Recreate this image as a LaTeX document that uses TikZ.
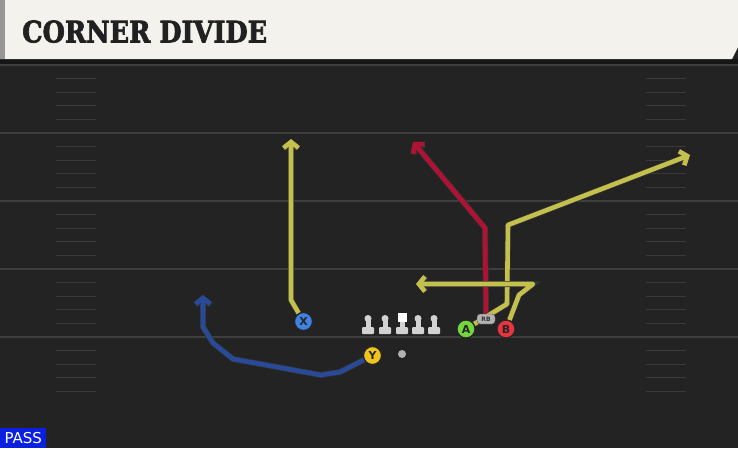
\documentclass[tikz,border=0pt]{standalone}
\usepackage{fontspec}
\setmainfont{DejaVu Sans}
\newfontfamily\titlefont[BoldFeatures={FakeBold=2.5}]{DejaVu Serif}
\usetikzlibrary{arrows.meta,shapes,positioning}
\pgfdeclarelayer{field}
\pgfdeclarelayer{routes}
\pgfsetlayers{field,routes,main}
\definecolor{fieldbg}{RGB}{35,35,35}
\definecolor{bandbg}{RGB}{22,22,22}
\definecolor{cream}{RGB}{244,242,236}
\definecolor{stripgray}{RGB}{150,150,150}
\definecolor{hashgray}{RGB}{58,58,58}
\definecolor{linegray}{RGB}{62,62,62}
\definecolor{passblue}{RGB}{10,32,222}
\definecolor{xblue}{RGB}{64,130,225}
\definecolor{yyellow}{RGB}{240,196,30}
\definecolor{agreen}{RGB}{115,214,60}
\definecolor{bred}{RGB}{232,52,60}
\definecolor{routeyellow}{RGB}{196,192,78}
\definecolor{routered}{RGB}{176,18,52}
\definecolor{routeblue}{RGB}{40,74,152}
\tikzset{player/.style={circle,draw=black!85,line width=1.2pt,inner sep=0pt,
minimum size=18pt, font=\bfseries\fontsize{11}{11}\selectfont, text=black!85},
route/.style={line width=4.6pt, line join=round,
-{Straight Barb[length=6pt,width=15pt]},
preaction={draw=black!80,line width=6pt}},
hash/.style={draw=hashgray, line width=1.3pt},
yard/.style={draw=linegray, line width=1.8pt},
lineman/.style={fill=gray!35},
linehead/.style={circle,fill=gray!35,inner sep=0pt,minimum size=7pt},
centerhead/.style={rectangle,fill=white,inner sep=0pt,minimum size=9pt},
rbtag/.style={rectangle,rounded corners=3pt,fill=gray!60,draw=black!70,
inner sep=0pt,minimum width=18pt,minimum height=10pt,
font=\bfseries\fontsize{6}{6}\selectfont,text=black!80},
qb/.style={circle,fill=gray!60,inner sep=0pt,minimum size=8pt}}
\newcommand{\blocker}[2]{
\fill[lineman,rounded corners=1pt] (#2-6,327) rectangle (#2+6,334);
\fill[lineman] (#2-2.5,320) rectangle (#2+2.5,328);
\node (#1) [linehead] at (#2,318.5) {};
}

\begin{document}
\begin{tikzpicture}[x=1pt,y=-1pt]
  \useasboundingbox (0,0) rectangle (738,448);

  \begin{pgfonlayer}{field}
    \fill[fieldbg] (0,0) rectangle (738,448);
    \fill[bandbg] (0,59) rectangle (738,64);
    \fill[cream] (0,0) -- (738,0) -- (738,47) -- (732,59) -- (0,59) -- cycle;
    \fill[stripgray] (0,0) rectangle (5,59);
    \draw[yard] (0,65) -- (738,65);
    \foreach \y in {133,201,269,337}
      \draw[yard] (0,\y) -- (738,\y);
    \foreach \i in {1,...,24}{
      \pgfmathtruncatemacro\r{mod(\i,5)}
      \ifnum\r>0
        \draw[hash] (56,65+13.6*\i) -- (96,65+13.6*\i);
        \draw[hash] (646,65+13.6*\i) -- (686,65+13.6*\i);
      \fi
    }
  \end{pgfonlayer}

  \node (title) [anchor=south west,inner sep=0pt,text=black!87] at (22,43)
    {\resizebox{245pt}{22pt}{\titlefont\bfseries CORNER DIVIDE}};

  \blocker{lt}{368}
  \blocker{lg}{385}
  \blocker{rg}{418}
  \blocker{rt}{434}
  \fill[lineman,rounded corners=1pt] (396,327) rectangle (408,334);
  \fill[lineman] (399.5,320) rectangle (404.5,328);
  \node (center) [centerhead] at (402,317.5) {};

  \node (qb) [qb] at (402,354) {};
  \node (X) [player,fill=xblue] at (303.5,321.5) {X};
  \node (Y) [player,fill=yyellow] at (372.5,355.5) {Y};
  \node (A) [player,fill=agreen] at (466,329) {A};
  \node (B) [player,fill=bred] at (506,329) {B};
  \node (RB) [rbtag] at (486,319) {RB};

  \coordinate (xend) at (291,139);
  \coordinate (yend) at (203,295);
  \coordinate (rbend) at (413,142);
  \coordinate (aend) at (690,155);
  \coordinate (bend) at (416,284);

  \begin{pgfonlayer}{routes}
    \draw[route,routeyellow] (X) -- (291,300) -- (xend);
    \draw[route,routeblue] (Y) -- (340,372) -- (321,375) -- (233,359)
      -- (213,343) -- (203,327) -- (yend);
    \draw[route,routered] (RB.north) -- (485,228) -- (rbend);
    \draw[route,routeyellow] (A) -- (507,304) -- (508,225) -- (aend);
    \draw[route,routeyellow] (B) -- (519,295) -- (533,284) -- (bend);
  \end{pgfonlayer}

  \node (pass) [fill=passblue,anchor=south west,minimum width=46pt,
    minimum height=20pt,inner sep=0pt,text=white,
    font=\fontsize{15}{15}\selectfont] at (0,448) {PASS};
\end{tikzpicture}
\end{document}
